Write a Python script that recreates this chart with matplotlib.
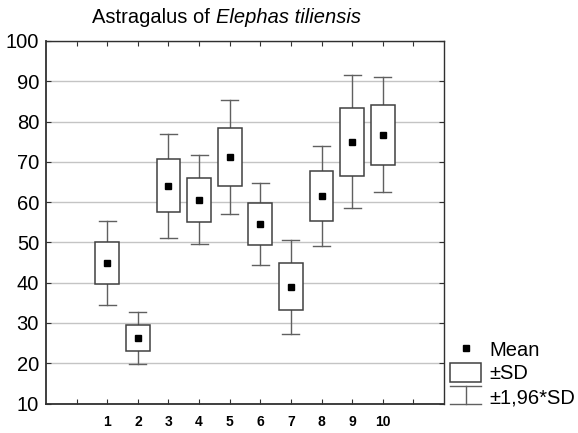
import matplotlib
matplotlib.use("Agg")
import matplotlib.pyplot as plt
from matplotlib.patches import Rectangle

plt.rcParams['font.family'] = ['Liberation Sans', 'DejaVu Sans']

# Data
groups = [1, 2, 3, 4, 5, 6, 7, 8, 9, 10]
means = [44.9, 26.3, 64.1, 60.6, 71.2, 54.6, 38.9, 61.6, 75.0, 76.6]
sd_low = [39.7, 23.1, 57.5, 55.1, 64.0, 49.4, 33.1, 55.2, 66.5, 69.3]
sd_high = [50.2, 29.5, 70.6, 66.1, 78.4, 59.8, 44.9, 67.8, 83.4, 84.0]
ci_low = [34.5, 19.9, 51.0, 49.5, 57.0, 44.5, 27.2, 49.0, 58.5, 62.5]
ci_high = [55.3, 32.6, 77.0, 71.6, 85.4, 64.7, 50.7, 74.0, 91.6, 91.0]
yticks = [10, 20, 30, 40, 50, 60, 70, 80, 90, 100]
legend_labels = ["Mean", "\u00b1SD", "\u00b11,96*SD"]
title_plain = "Astragalus of "
title_italic = "Elephas tiliensis"

W, H = 578, 433
FS = 14.5
fig = plt.figure(figsize=(W / 100, H / 100), dpi=100)
ax = fig.add_axes([46 / W, 1 - 403.5 / H, (444 - 46) / W, (403.5 - 41) / H])

spine_c = '#303030'
box_c = '#404040'
wh_c = '#606060'
box_w = 0.78
cap_w = 0.56

for i, g in enumerate(groups):
    ax.plot([g, g], [sd_high[i], ci_high[i]], color=wh_c, lw=1.0, zorder=2)
    ax.plot([g, g], [ci_low[i], sd_low[i]], color=wh_c, lw=1.0, zorder=2)
    ax.plot([g - cap_w / 2, g + cap_w / 2], [ci_high[i]] * 2, color=wh_c, lw=1.0, zorder=2)
    ax.plot([g - cap_w / 2, g + cap_w / 2], [ci_low[i]] * 2, color=wh_c, lw=1.0, zorder=2)
    ax.add_patch(Rectangle((g - box_w / 2, sd_low[i]), box_w, sd_high[i] - sd_low[i],
                           facecolor='white', edgecolor=box_c, lw=1.1, zorder=3))
ax.plot(groups, means, linestyle='none', marker='s', markersize=4.6,
        color='black', zorder=4)

ax.set_xlim(-1, 12)
ax.set_ylim(10, 100)
ax.set_yticks(yticks)
ax.set_yticklabels([str(v) for v in yticks], fontsize=FS)
ax.set_xticks(range(0, 12))
ax.set_xticklabels([str(t) if t in groups else '' for t in range(0, 12)],
                   fontsize=10, fontweight='bold')
ax.tick_params(axis='both', direction='in', top=True, right=True, length=3.5,
               width=0.8, color=spine_c)
ax.tick_params(axis='y', pad=5)
ax.tick_params(axis='x', pad=8)
ax.grid(axis='y', color='#c4c4c4', lw=1.0, zorder=0)
ax.set_axisbelow(True)
for s in ax.spines.values():
    s.set_color(spine_c)
    s.set_linewidth(1.0)
ax.spines['bottom'].set_linewidth(1.3)
ax.spines['left'].set_linewidth(1.3)

# Title: plain part + italic part
t_plain = fig.text(92 / W, 1 - 22.7 / H, title_plain, fontsize=FS, ha='left', va='baseline')
fig.canvas.draw()
bb = t_plain.get_window_extent(renderer=fig.canvas.get_renderer())
fig.text(bb.x1 / W, 1 - 22.7 / H, title_italic, fontsize=FS, style='italic',
         ha='left', va='baseline')

# Legend drawn in figure pixel coordinates
lax = fig.add_axes([0, 0, 1, 1], facecolor='none')
lax.set_xlim(0, W)
lax.set_ylim(H, 0)
lax.axis('off')
lax.plot([465.7], [348], marker='s', markersize=4.2, color='black', linestyle='none')
lax.add_patch(Rectangle((450, 363), 31, 19, facecolor='white', edgecolor=box_c, lw=1.1))
lax.plot([450, 481], [386, 386], color=wh_c, lw=1.0)
lax.plot([450, 481], [404, 404], color=wh_c, lw=1.0)
lax.plot([465.7, 465.7], [386, 404], color=wh_c, lw=1.0)
lax.text(489, 356, legend_labels[0], fontsize=FS, va='baseline', ha='left')
lax.text(489, 379, legend_labels[1], fontsize=FS, va='baseline', ha='left')
lax.text(489, 403, legend_labels[2], fontsize=FS, va='baseline', ha='left')

fig.savefig("out.png", dpi=100)
